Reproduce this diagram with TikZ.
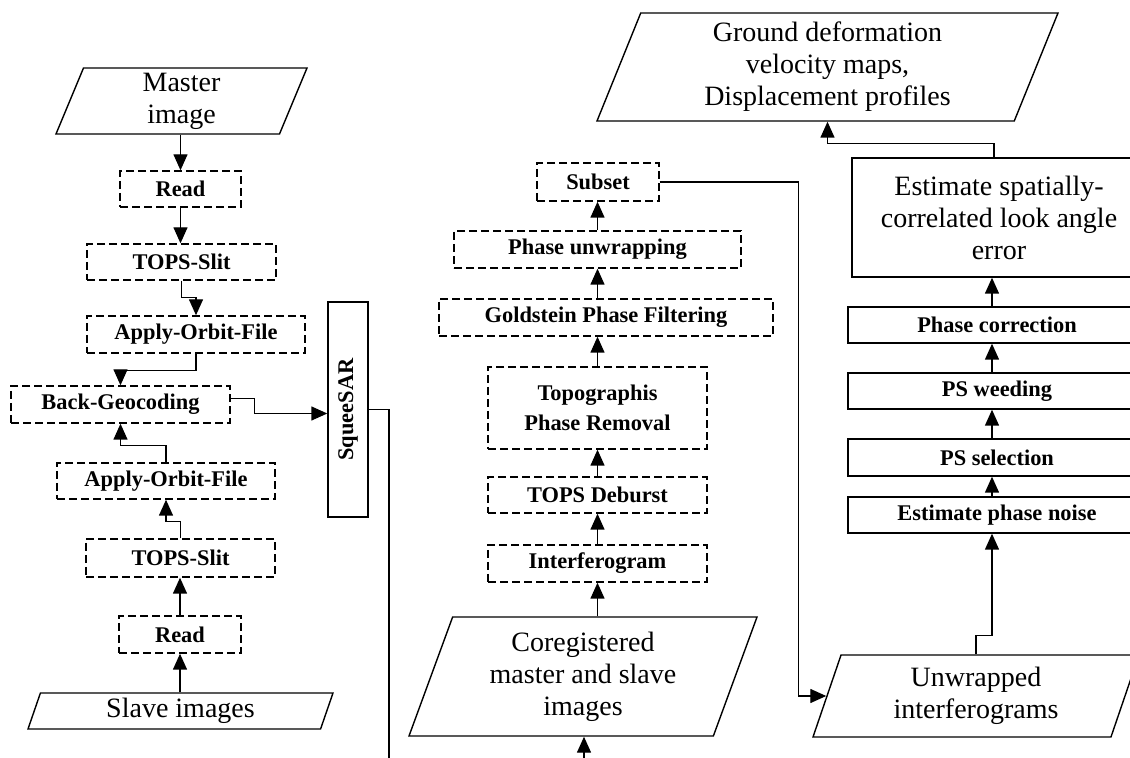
\documentclass[tikz,border=0pt]{standalone}
\usepackage{fontspec}
\setmainfont{Liberation Serif}
\usetikzlibrary{shapes.geometric,arrows.meta}
\newcommand\iofont{\fontsize{14}{16}\selectfont}
\newcommand\stepfont{\bfseries\fontsize{11.2}{15}\selectfont}
\tikzset{
  dbox/.style={draw, line width=0.7pt, dash pattern=on 4pt off 2pt, inner sep=0pt, align=center, font=\stepfont},
  pbox/.style={draw, line width=0.7pt, inner sep=0pt, align=center, font=\stepfont},
  iobox/.style={draw, line width=0.7pt, trapezium, trapezium left angle=64, trapezium right angle=116,
    trapezium stretches body, inner sep=0pt, align=center, font=\iofont},
  arr/.style={line width=0.7pt, -{Triangle[length=8pt,width=7pt]}},
  link/.style={line width=0.7pt}
}
\begin{document}
\begin{tikzpicture}[x=0.5pt, y=-0.5pt]
	\useasboundingbox (0,0) rectangle (1130,758);
	\clip (0,0) rectangle (1130,758);
	\node[iobox, minimum width=125.5pt, minimum height=33pt] (mimg) at (181.5,101) {Master\\image};
	\node[dbox, minimum width=60.5pt, minimum height=18pt] (mread) at (180.5,189) {Read};
	\node[dbox, minimum width=94.5pt, minimum height=18pt] (msplit) at (181.5,262) {TOPS-Slit};
	\node[dbox, minimum width=109pt, minimum height=18.5pt] (morbit) at (196,334.5) {Apply-Orbit-File};
	\node[dbox, minimum width=109.5pt, minimum height=18.5pt] (geocod) at (120.5,404.5) {Back-Geocoding};
	\node[dbox, minimum width=109pt, minimum height=18pt] (sorbit) at (166,481) {Apply-Orbit-File};
	\node[dbox, minimum width=94.5pt, minimum height=19pt] (ssplit) at (180.5,558) {TOPS-Slit};
	\node[dbox, minimum width=61pt, minimum height=18.5pt] (sread) at (180,634.5) {Read};
	\node[iobox, minimum width=152.5pt, minimum height=18pt] (simg) at (180.5,711) {Slave images};
	\node[pbox, minimum width=20pt, minimum height=107.5pt] (sqsar) at (348,409.5) {\rotatebox{90}{SqueeSAR}};
	\coordinate (sqend) at (389,760);
	\node[dbox, minimum width=61pt, minimum height=19pt] (subset) at (598,182) {Subset};
	\node[dbox, minimum width=143.5pt, minimum height=18.5pt] (unwrap) at (597.5,249.5) {Phase unwrapping};
	\node[dbox, minimum width=167pt, minimum height=18.5pt] (filter) at (606,317.5) {Goldstein Phase Filtering};
	\node[dbox, minimum width=109.5pt, minimum height=41pt] (topo) at (597.5,408) {Topographis\\Phase Removal};
	\node[dbox, minimum width=109.5pt, minimum height=18pt] (deburst) at (597.5,495) {TOPS Deburst};
	\node[dbox, minimum width=109.5pt, minimum height=18.5pt] (ifgram) at (597.5,563.5) {Interferogram};
	\node[iobox, minimum width=174pt, minimum height=59.5pt] (coreg) at (583,676.5) {Coregistered\\master and slave\\images};
	\coordinate (corin) at (584,760);
	\node[iobox, minimum width=230.5pt, minimum height=54pt] (ground) at (827.5,67) {Ground deformation\\velocity maps,\\Displacement profiles};
	\node[pbox, font=\iofont, minimum width=147pt, minimum height=59.5pt] (lookerr) at (999,217.5) {Estimate spatially-\\correlated look angle\\error};
	\node[pbox, minimum width=149pt, minimum height=18pt] (phcorr) at (997,325) {Phase correction};
	\node[pbox, minimum width=149pt, minimum height=18pt] (weed) at (997,391) {PS weeding};
	\node[pbox, minimum width=149pt, minimum height=18.5pt] (select) at (997,457.5) {PS selection};
	\node[pbox, minimum width=149pt, minimum height=18pt] (noise) at (997,515) {Estimate phase noise};
	\node[iobox, minimum width=163pt, minimum height=41pt] (unwifg) at (976,696) {Unwrapped\\interferograms};
	\draw[arr] (mread.north |- mimg.south) -- (mread.north);
	\draw[arr] (mread.south) -- (mread.south |- msplit.north);
	\draw[arr] (msplit.south) -- ++(0,17) -| (morbit.north);
	\draw[arr] (morbit.south) -- ++(0,17) -| (geocod.north);
	\draw[arr] ([yshift=3pt]geocod.east) -- ++(24,0) |- ([yshift=-2pt]sqsar.west);
	\draw[arr] (sorbit.north) -- ++(0,-17) -| (geocod.south);
	\draw[arr] (ssplit.north) -- ++(0,-17) -| (sorbit.south);
	\draw[arr] (sread.north) -- (sread.north |- ssplit.south);
	\draw[arr] (sread.south |- simg.north) -- (sread.south);
	\draw[link] (sqsar.east) -| (sqend);
	\draw[arr] (ifgram.south |- coreg.north) -- (ifgram.south);
	\draw[arr] (ifgram.north) -- (deburst.south);
	\draw[arr] (deburst.north) -- (topo.south);
	\draw[arr] (topo.north) -- (topo.north |- filter.south);
	\draw[arr] (unwrap.south |- filter.north) -- (unwrap.south);
	\draw[arr] (unwrap.north) -- (unwrap.north |- subset.south);
	\draw[arr] (corin) -- (corin |- coreg.south);
	\draw[arr] (subset.east) -- ++(139,0) |- (unwifg.west);
	\draw[arr] (unwifg.center |- unwifg.north) -- ++(0,-19) -| ([xshift=-2.5pt]noise.south);
	\draw[arr] ([xshift=-2.5pt]noise.north) -- ([xshift=-2.5pt]select.south);
	\draw[arr] ([xshift=-2.5pt]select.north) -- ([xshift=-2.5pt]weed.south);
	\draw[arr] ([xshift=-2.5pt]weed.north) -- ([xshift=-2.5pt]phcorr.south);
	\draw[arr] ([xshift=-2.5pt]phcorr.north) -- ([xshift=-2.5pt]phcorr.north |- lookerr.south);
	\draw[arr] ([xshift=-2.5pt]lookerr.north) -- ++(0,-14) -| (ground.center |- ground.south);
\end{tikzpicture}
\end{document}
